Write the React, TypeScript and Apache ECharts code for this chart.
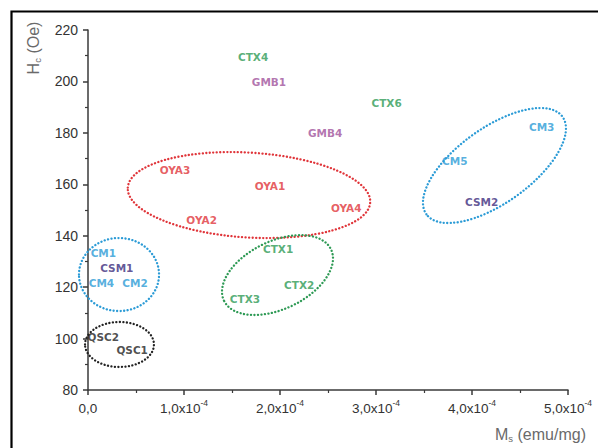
import React, { useEffect, useRef } from "react";
import * as echarts from "echarts";

// Sample labels (Ms in emu/mg, Hc in Oe)
const sampleNames = ["CTX4", "GMB1", "CTX6", "GMB4", "OYA3", "OYA1", "OYA2", "OYA4", "CM3", "CM5", "CSM2", "CM1", "CSM1", "CM4", "CM2", "QSC2", "QSC1", "CTX1", "CTX2", "CTX3"];
const sampleGroups = ["CTX", "GMB", "CTX", "GMB", "OYA", "OYA", "OYA", "OYA", "CM", "CM", "CSM", "CM", "CSM", "CM", "CM", "QSC", "QSC", "CTX", "CTX", "CTX"];
const sampleMs = [1.72e-4, 1.885e-4, 3.11e-4, 2.47e-4, 0.906e-4, 1.896e-4, 1.184e-4, 2.69e-4, 4.726e-4, 3.82e-4, 4.1e-4, 0.16e-4, 0.3e-4, 0.14e-4, 0.49e-4, 0.16e-4, 0.46e-4, 1.98e-4, 2.2e-4, 1.635e-4];
const sampleHc = [209.5, 199.8, 191.6, 180, 165.5, 159.4, 146.1, 150.6, 182.4, 169, 153.2, 133.3, 127.4, 121.6, 121.6, 100.6, 95.5, 134.8, 120.8, 115.4];

// Cluster ellipses (center and semi-axes in data units, rotation in degrees)
const ellipseGroups = ["OYA", "CM", "QSC", "CTX", "CM"];
const ellipseCx = [1.677e-4, 0.323e-4, 0.328e-4, 1.974e-4, 4.234e-4];
const ellipseCy = [155.8, 124.9, 97.7, 124.7, 167.3];
const ellipseRx = [1.265e-4, 0.417e-4, 0.359e-4, 0.618e-4, 0.872e-4];
const ellipseRy = [16.5, 14.2, 8.75, 13.2, 14.6];
const ellipseRot = [-3.5, 0, 0, 25.6, 35.6];

const xTicks = { min: 0, max: 5e-4, interval: 1e-4 };
const yTicks = { min: 80, max: 220, interval: 20 };

const groupColors: Record<string, string> = {
  OYA: "#e0353a",
  CTX: "#2e9a55",
  GMB: "#a0529b",
  CM: "#2b9bd6",
  CSM: "#3c2d7d",
  QSC: "#222222",
};

export default function App() {
  const ref = useRef<HTMLDivElement>(null);
  useEffect(() => {
    if (!ref.current) return;
    const chart = echarts.init(ref.current, null, { renderer: "svg" });
    const labelData = sampleNames.map((n, i) => ({
      name: n,
      value: [sampleMs[i], sampleHc[i]],
      label: { color: groupColors[sampleGroups[i]] },
    }));
    const ellipseData = ellipseCx.map((cx, i) => [cx, ellipseCy[i], ellipseRx[i], ellipseRy[i], ellipseRot[i]]);
    const tickFont = { fontFamily: "Liberation Sans", fontSize: 14, color: "#333333" };
    chart.setOption({
      animation: false,
      grid: { left: 88, top: 30, width: 480, height: 360 },
      xAxis: {
        type: "value",
        min: xTicks.min,
        max: xTicks.max,
        interval: xTicks.interval,
        splitLine: { show: false },
        axisLine: { lineStyle: { color: "#3a3a3a", width: 1.5 } },
        axisTick: { inside: false, length: 5, lineStyle: { color: "#3a3a3a", width: 1.5 } },
        minorTick: { show: true, splitNumber: 2, length: 3, lineStyle: { color: "#3a3a3a", width: 1.2 } },
        axisLabel: {
          margin: 8,
          ...tickFont,
          formatter: (v: number) => {
            const m = Math.round(v * 1e5) / 10;
            if (m === 0) return "{b|0,0}";
            return "{b|" + m.toFixed(1).replace(".", ",") + "x10}{s|-4}";
          },
          rich: {
            b: { ...tickFont, fontSize: 13.5, lineHeight: 17, verticalAlign: "bottom" },
            s: { fontFamily: "Liberation Sans", fontSize: 8.5, color: "#333333", verticalAlign: "top", lineHeight: 17 },
          },
        },
      },
      yAxis: {
        type: "value",
        min: yTicks.min,
        max: yTicks.max,
        interval: yTicks.interval,
        splitLine: { show: false },
        axisLine: { show: true, lineStyle: { color: "#3a3a3a", width: 1.5 } },
        axisTick: { show: true, inside: false, length: 5, lineStyle: { color: "#3a3a3a", width: 1.5 } },
        minorTick: { show: true, splitNumber: 2, length: 3, lineStyle: { color: "#3a3a3a", width: 1.2 } },
        axisLabel: { margin: 10, ...tickFont },
      },
      graphic: [
        {
          type: "rect",
          shape: { x: 11.5, y: 11.5, width: 640, height: 480 },
          style: { fill: "none", stroke: "#000", lineWidth: 2.2 },
          silent: true,
        },
        {
          type: "text",
          x: 33,
          y: 48,
          rotation: Math.PI / 2,
          style: {
            text: "H{s|c} (Oe)",
            fontFamily: "Liberation Sans",
            fontSize: 16,
            fill: "#6a6a6a",
            align: "center",
            verticalAlign: "middle",
            rich: {
              s: { fontFamily: "Liberation Sans", fontSize: 9.5, fill: "#6a6a6a", verticalAlign: "bottom", lineHeight: 19 },
            },
          },
        },
        {
          type: "text",
          x: 586,
          y: 434,
          style: {
            text: "M{s|s} (emu/mg)",
            fontFamily: "Liberation Sans",
            fontSize: 16,
            fill: "#6a6a6a",
            align: "right",
            verticalAlign: "middle",
            rich: {
              s: { fontFamily: "Liberation Sans", fontSize: 9.5, fill: "#6a6a6a", verticalAlign: "bottom", lineHeight: 19 },
            },
          },
        },
      ],
      series: [
        {
          type: "custom",
          clip: false,
          z: 1,
          silent: true,
          data: ellipseData,
          renderItem: (params: any, api: any) => {
            const c = api.coord([api.value(0), api.value(1)]);
            const s = api.size([api.value(2), api.value(3)]);
            return {
              type: "ellipse",
              x: c[0],
              y: c[1],
              rotation: (api.value(4) * Math.PI) / 180,
              shape: { cx: 0, cy: 0, rx: s[0], ry: s[1] },
              style: {
                fill: "none",
                stroke: groupColors[ellipseGroups[params.dataIndex]],
                lineWidth: 2.3,
                lineDash: [0.1, 3.4],
                lineCap: "round",
              },
            };
          },
        },
        {
          type: "scatter",
          z: 3,
          symbolSize: 0.1,
          itemStyle: { color: "rgba(0,0,0,0)" },
          data: labelData,
          label: {
            show: true,
            position: "inside",
            formatter: (p: any) => p.name,
            fontFamily: "DejaVu Sans",
            fontWeight: "bold",
            fontSize: 10.5,
          },
        },
      ],
    });
    return () => chart.dispose();
  }, []);
  return <div ref={ref} style={{ position: "fixed", left: 0, top: 0, width: 598, height: 448, background: "#fff" }} />;
}
